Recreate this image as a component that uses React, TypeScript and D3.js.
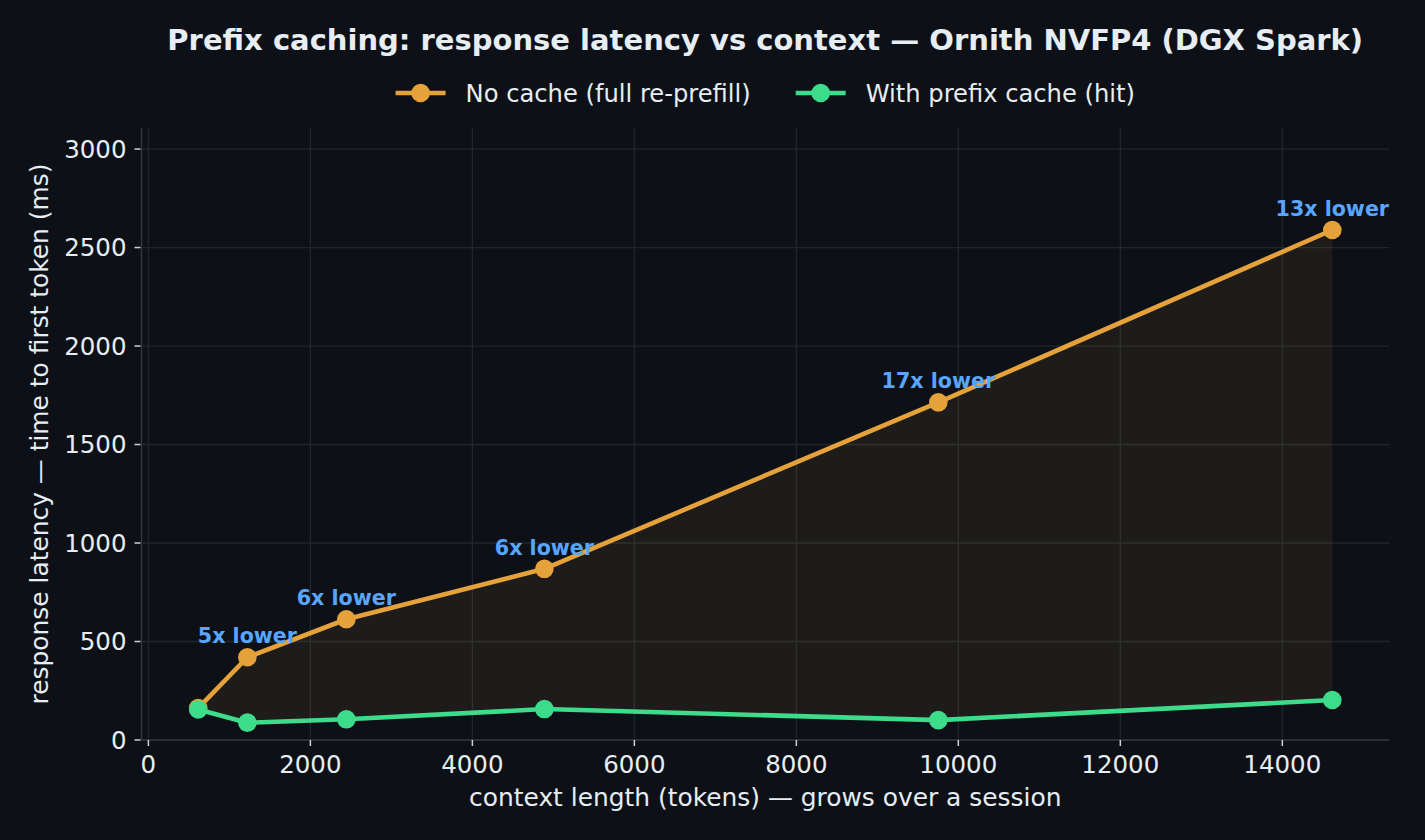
import React, { useEffect, useRef } from "react";
import * as d3 from "d3";

// context length per turn (tokens) and time-to-first-token (ms)
const contextTokens = [615, 1222, 2444, 4889, 9753, 14617];
const noCacheMs = [162, 420, 613, 869, 1714, 2589];
const prefixCacheMs = [155, 88, 105, 157, 101, 203];
const speedupLabels = ["", "5x lower", "6x lower", "6x lower", "17x lower", "13x lower"];

const xTicks = [0, 2000, 4000, 6000, 8000, 10000, 12000, 14000];
const yTicks = [0, 500, 1000, 1500, 2000, 2500, 3000];

const seriesNames = ["No cache (full re-prefill)", "With prefix cache (hit)"];

const BG = "#0d1117";
const FG = "#e6edf3";
const GRID = "#21262d";
const SPINE = "#30363d";
const ORANGE = "#e5a13a";
const GREEN = "#3ddc8a";
const BLUE = "#58a6ff";
const FONT = "DejaVu Sans, sans-serif";
const TICK_SIZE = "24.5px";
const AXIS_TITLE_SIZE = "24.9px";
const LEGEND_SIZE = "24.2px";

const W = 1425;
const H = 840;
const plot = { left: 141.5, right: 1389, top: 128, bottom: 740 };

const App: React.FC = () => {
  const ref = useRef<SVGSVGElement>(null);

  useEffect(() => {
    if (!ref.current) return;
    const svg = d3.select(ref.current);
    svg.selectAll("*").remove();

    const xMin = d3.min(contextTokens)!;
    const xMax = d3.max(contextTokens)!;
    const pad = (xMax - xMin) * 0.05;
    const x = d3.scaleLinear().domain([xMin - pad, xMax + pad]).range([plot.left, plot.right]);
    const y = d3
      .scaleLinear()
      .domain([0, d3.max(noCacheMs)! * 1.2])
      .range([plot.bottom, plot.top]);

    svg.append("rect").attr("width", W).attr("height", H).attr("fill", BG);

    // grid
    const grid = svg.append("g");
    grid
      .selectAll("line.gx")
      .data(xTicks)
      .join("line")
      .attr("x1", (d) => x(d))
      .attr("x2", (d) => x(d))
      .attr("y1", plot.top)
      .attr("y2", plot.bottom)
      .attr("stroke", GRID)
      .attr("stroke-width", 1.3);
    grid
      .selectAll("line.gy")
      .data(yTicks)
      .join("line")
      .attr("x1", plot.left)
      .attr("x2", plot.right)
      .attr("y1", (d) => y(d))
      .attr("y2", (d) => y(d))
      .attr("stroke", GRID)
      .attr("stroke-width", 1.3);

    // spines
    svg
      .append("line")
      .attr("x1", plot.left)
      .attr("x2", plot.left)
      .attr("y1", plot.top)
      .attr("y2", plot.bottom)
      .attr("stroke", SPINE)
      .attr("stroke-width", 1.5);
    svg
      .append("line")
      .attr("x1", plot.left)
      .attr("x2", plot.right)
      .attr("y1", plot.bottom)
      .attr("y2", plot.bottom)
      .attr("stroke", SPINE)
      .attr("stroke-width", 1.5);

    // ticks + labels
    const xt = svg.append("g").selectAll("g").data(xTicks).join("g");
    xt.append("line")
      .attr("x1", (d) => x(d))
      .attr("x2", (d) => x(d))
      .attr("y1", plot.bottom)
      .attr("y2", plot.bottom + 6)
      .attr("stroke", "#c9d1d9")
      .attr("stroke-width", 1.5);
    xt.append("text")
      .attr("x", (d) => x(d))
      .attr("y", plot.bottom + 33)
      .attr("text-anchor", "middle")
      .attr("fill", FG)
      .style("font-family", FONT)
      .style("font-size", TICK_SIZE)
      .text((d) => String(d));

    const yt = svg.append("g").selectAll("g").data(yTicks).join("g");
    yt.append("line")
      .attr("x1", plot.left - 7)
      .attr("x2", plot.left - 1)
      .attr("y1", (d) => y(d))
      .attr("y2", (d) => y(d))
      .attr("stroke", "#c9d1d9")
      .attr("stroke-width", 1.5);
    yt.append("text")
      .attr("x", plot.left - 15)
      .attr("y", (d) => y(d) + 8.5)
      .attr("text-anchor", "end")
      .attr("fill", FG)
      .style("font-family", FONT)
      .style("font-size", TICK_SIZE)
      .text((d) => String(d));

    // axis titles
    const cx = (plot.left + plot.right) / 2;
    svg
      .append("text")
      .attr("x", cx)
      .attr("y", 806)
      .attr("text-anchor", "middle")
      .attr("fill", FG)
      .style("font-family", FONT)
      .style("font-size", AXIS_TITLE_SIZE)
      .text("context length (tokens) — grows over a session");
    svg
      .append("text")
      .attr("transform", `translate(48,${(plot.top + plot.bottom) / 2}) rotate(-90)`)
      .attr("text-anchor", "middle")
      .attr("fill", FG)
      .style("font-family", FONT)
      .style("font-size", AXIS_TITLE_SIZE)
      .text("response latency — time to first token (ms)");

    // shaded gap between the two series
    const idx = d3.range(contextTokens.length);
    const area = d3
      .area<number>()
      .x((i) => x(contextTokens[i]))
      .y0((i) => y(prefixCacheMs[i]))
      .y1((i) => y(noCacheMs[i]));
    svg.append("path").attr("d", area(idx)!).attr("fill", ORANGE).attr("fill-opacity", 0.08);

    const drawSeries = (vals: number[], color: string) => {
      const line = d3
        .line<number>()
        .x((i) => x(contextTokens[i]))
        .y((i) => y(vals[i]));
      svg
        .append("path")
        .attr("d", line(idx)!)
        .attr("fill", "none")
        .attr("stroke", color)
        .attr("stroke-width", 4.6)
        .attr("stroke-linejoin", "round");
      svg
        .append("g")
        .selectAll("circle")
        .data(idx)
        .join("circle")
        .attr("cx", (i) => x(contextTokens[i]))
        .attr("cy", (i) => y(vals[i]))
        .attr("r", 9.3)
        .attr("fill", color);
    };
    drawSeries(noCacheMs, ORANGE);
    drawSeries(prefixCacheMs, GREEN);

    // speedup annotations
    svg
      .append("g")
      .selectAll("text")
      .data(idx.filter((i) => speedupLabels[i]))
      .join("text")
      .attr("x", (i) => x(contextTokens[i]))
      .attr("y", (i) => y(noCacheMs[i]) - 14)
      .attr("text-anchor", "middle")
      .attr("fill", BLUE)
      .style("font-family", FONT)
      .style("font-size", "20.6px")
      .style("font-weight", "bold")
      .text((i) => speedupLabels[i]);

    // title
    svg
      .append("text")
      .attr("x", cx)
      .attr("y", 50)
      .attr("text-anchor", "middle")
      .attr("fill", FG)
      .style("font-family", FONT)
      .style("font-size", "29px")
      .style("font-weight", "bold")
      .text("Prefix caching: response latency vs context — Ornith NVFP4 (DGX Spark)");

    // legend, centred over the plot
    const colors = [ORANGE, GREEN];
    const legend = svg.append("g");
    const entries = seriesNames.map((name, i) => {
      const g = legend.append("g");
      g.append("line")
        .attr("x1", 0)
        .attr("x2", 50)
        .attr("y1", 0)
        .attr("y2", 0)
        .attr("stroke", colors[i])
        .attr("stroke-width", 4.6);
      g.append("circle").attr("cx", 25).attr("cy", 0).attr("r", 9.3).attr("fill", colors[i]);
      const t = g
        .append("text")
        .attr("x", 70)
        .attr("y", 8.5)
        .attr("fill", FG)
        .style("font-family", FONT)
        .style("font-size", LEGEND_SIZE)
        .text(name);
      const w = 70 + (t.node() as SVGTextElement).getComputedTextLength();
      return { g, w };
    });
    const gap = 45;
    const total = d3.sum(entries, (e) => e.w) + gap * (entries.length - 1);
    let lx = cx - total / 2;
    entries.forEach((e) => {
      e.g.attr("transform", `translate(${lx},93)`);
      lx += e.w + gap;
    });
  }, []);

  return (
    <div style={{ position: "fixed", left: 0, top: 0 }}>
      <svg ref={ref} width={W} height={H} style={{ display: "block" }} />
    </div>
  );
};

export default App;
